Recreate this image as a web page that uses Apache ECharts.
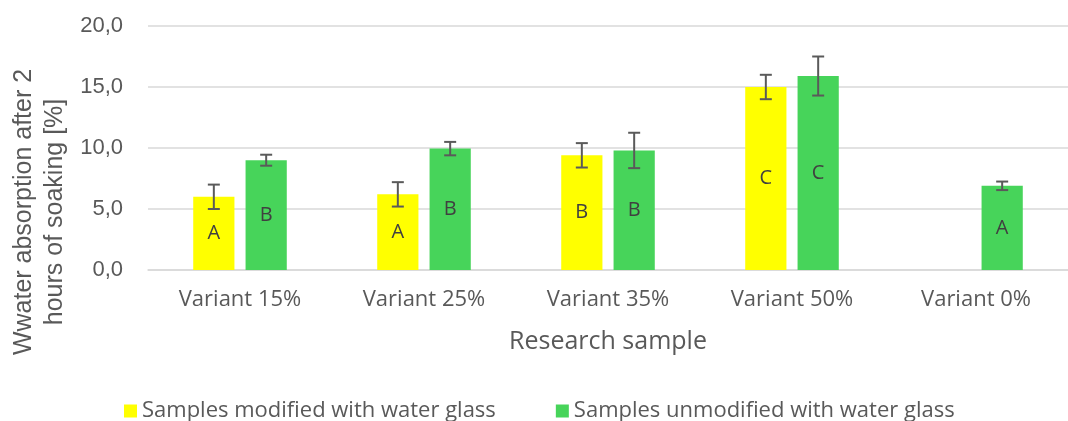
<!DOCTYPE html>
<html>
<head>
<meta charset="utf-8">
<script src="https://cdn.jsdelivr.net/npm/echarts@6/dist/echarts.min.js"></script>
<style>
  html, body { margin: 0; padding: 0; background: #fff; }
  #chart { width: 1068px; height: 421px; }
</style>
</head>
<body>
<div id="chart"></div>
<script>
const categories = ['Variant 15%', 'Variant 25%', 'Variant 35%', 'Variant 50%', 'Variant 0%'];
const modified = [6.0, 6.2, 9.4, 15.0, null];
const modifiedErr = [1.0, 1.0, 1.0, 1.0, null];
const modifiedLetters = ['A', 'A', 'B', 'C', ''];
const unmodified = [9.0, 9.95, 9.8, 15.9, 6.9];
const unmodifiedErr = [0.45, 0.55, 1.45, 1.6, 0.35];
const unmodifiedLetters = ['B', 'B', 'B', 'C', 'A'];
const yTicks = [0, 5, 10, 15, 20];

const FONT = 'Open Sans';
const ARIAL = 'Liberation Sans';
const TXT = '#595959';
const BAR_W = 0.224;
const BAR_GAP = 0.27;

function errorSeries(values, errs, side) {
  const data = values.map((v, i) => v == null ? null : [i, v - errs[i], v + errs[i]]);
  return {
    type: 'custom',
    silent: true,
    z: 5,
    data: data.filter(d => d),
    renderItem(params, api) {
      const band = api.size([1, 0])[0];
      const w = band * BAR_W;
      const off = side * w * (1 + BAR_GAP) / 2;
      const lo = api.coord([api.value(0), api.value(1)]);
      const hi = api.coord([api.value(0), api.value(2)]);
      const x = lo[0] + off;
      const cap = 6;
      const style = { stroke: '#5a5a5a', lineWidth: 2 };
      return {
        type: 'group',
        children: [
          { type: 'line', shape: { x1: x, y1: lo[1], x2: x, y2: hi[1] }, style },
          { type: 'line', shape: { x1: x - cap, y1: lo[1], x2: x + cap, y2: lo[1] }, style },
          { type: 'line', shape: { x1: x - cap, y1: hi[1], x2: x + cap, y2: hi[1] }, style }
        ]
      };
    }
  };
}

const chart = echarts.init(document.getElementById('chart'));
chart.setOption({
  animation: false,
  textStyle: { fontFamily: FONT },
  grid: { left: 148, right: -10, top: 26, bottom: 151, containLabel: false },
  legend: {
    left: 119, top: 395,
    itemWidth: 13, itemHeight: 13, itemGap: 60,
    icon: 'rect',
    textStyle: { fontFamily: FONT, fontSize: 22, color: TXT, padding: [0, 0, 0, 0] },
    data: ['Samples modified with water glass', 'Samples unmodified with water glass']
  },
  graphic: [{
    type: 'text',
    x: 40, y: 212,
    rotation: Math.PI / 2,
    style: {
      text: 'Wwater absorption after 2\nhours of soaking [%]',
      fontFamily: ARIAL, fontSize: 25, fill: TXT,
      align: 'center', verticalAlign: 'middle', lineHeight: 31
    }
  }],
  xAxis: {
    type: 'category',
    data: categories,
    name: 'Research sample',
    nameLocation: 'middle',
    nameGap: 59,
    nameTextStyle: { fontFamily: FONT, fontSize: 25, color: TXT },
    axisLine: { lineStyle: { color: '#d9d9d9', width: 1.5 } },
    axisTick: { show: false },
    axisLabel: { fontFamily: FONT, fontSize: 22, color: TXT, margin: 19 }
  },
  yAxis: {
    type: 'value',
    min: yTicks[0], max: yTicks[yTicks.length - 1], interval: 5,
    axisLine: { show: false },
    axisTick: { show: false },
    splitLine: { lineStyle: { color: '#d9d9d9', width: 1.5 } },
    axisLabel: {
      fontFamily: ARIAL, fontSize: 22, color: TXT, margin: 25,
      formatter: v => v.toFixed(1).replace('.', ',')
    }
  },
  series: [
    {
      name: 'Samples modified with water glass',
      type: 'bar',
      data: modified,
      barWidth: (BAR_W * 100) + '%',
      barGap: (BAR_GAP * 100) + '%',
      itemStyle: { color: '#FFFF00' },
      label: {
        show: true, position: 'inside', fontFamily: FONT, fontSize: 20, color: '#404040',
        formatter: p => modifiedLetters[p.dataIndex]
      }
    },
    {
      name: 'Samples unmodified with water glass',
      type: 'bar',
      data: unmodified,
      barWidth: (BAR_W * 100) + '%',
      itemStyle: { color: '#47D45A' },
      label: {
        show: true, position: 'inside', fontFamily: FONT, fontSize: 20, color: '#404040',
        formatter: p => unmodifiedLetters[p.dataIndex]
      }
    },
    errorSeries(modified, modifiedErr, -1),
    errorSeries(unmodified, unmodifiedErr, 1)
  ]
});
</script>
</body>
</html>
